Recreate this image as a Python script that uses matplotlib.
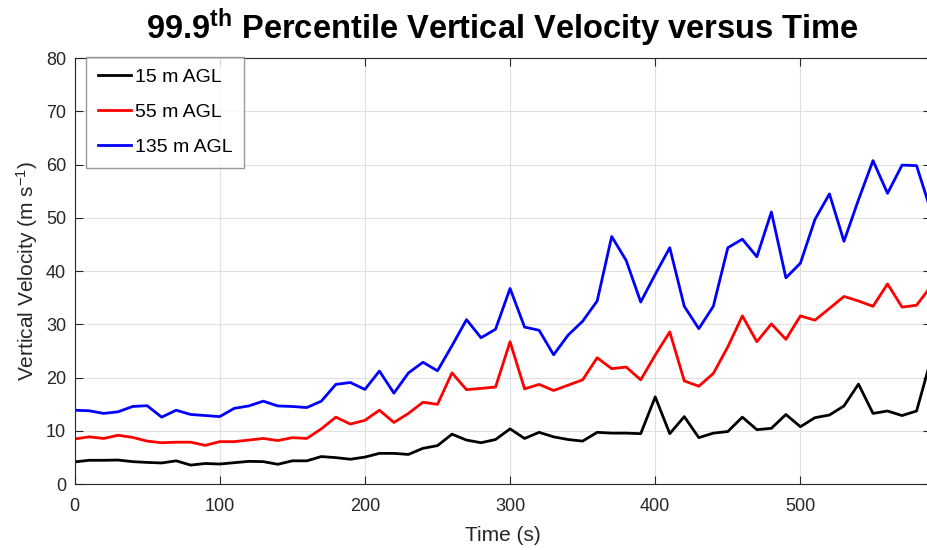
import matplotlib
matplotlib.use("Agg")
import matplotlib.pyplot as plt

plt.rcParams['font.family'] = ['Liberation Sans', 'DejaVu Sans']
plt.rcParams['mathtext.fontset'] = 'custom'
plt.rcParams['mathtext.rm'] = 'Liberation Sans'
plt.rcParams['mathtext.it'] = 'Liberation Sans'
plt.rcParams['mathtext.bf'] = 'Liberation Sans:bold'

# time in seconds
time_s = [0, 10, 20, 30, 40, 50, 60, 70, 80, 90,
          100, 110, 120, 130, 140, 150, 160, 170, 180, 190,
          200, 210, 220, 230, 240, 250, 260, 270, 280, 290,
          300, 310, 320, 330, 340, 350, 360, 370, 380, 390,
          400, 410, 420, 430, 440, 450, 460, 470, 480, 490,
          500, 510, 520, 530, 540, 550, 560, 570, 580, 590]

# 99.9th percentile vertical velocity (m/s) at each height
w_15m = [4.2, 4.5, 4.5, 4.55, 4.25, 4.1, 4.0, 4.4, 3.6, 3.9,
         3.8, 4.05, 4.3, 4.25, 3.75, 4.4, 4.4, 5.2, 5.0, 4.7,
         5.1, 5.8, 5.8, 5.6, 6.75, 7.25, 9.4, 8.3, 7.8, 8.4,
         10.4, 8.6, 9.75, 8.9, 8.4, 8.1, 9.75, 9.6, 9.6, 9.5,
         16.4, 9.5, 12.7, 8.75, 9.6, 9.9, 12.6, 10.25, 10.5, 13.1,
         10.8, 12.5, 13.0, 14.7, 18.8, 13.3, 13.75, 12.9, 13.75, 23.5]
w_55m = [8.5, 8.9, 8.6, 9.2, 8.8, 8.1, 7.8, 7.9, 7.9, 7.3,
         8.0, 8.0, 8.3, 8.6, 8.2, 8.75, 8.6, 10.4, 12.6, 11.3,
         12.0, 13.9, 11.6, 13.3, 15.4, 15.0, 20.9, 17.75, 18.0, 18.25,
         26.75, 17.9, 18.75, 17.6, 18.6, 19.6, 23.75, 21.7, 22.0, 19.6,
         24.25, 28.6, 19.4, 18.4, 20.8, 25.8, 31.6, 26.75, 30.1, 27.2,
         31.6, 30.8, 33.0, 35.25, 34.4, 33.4, 37.6, 33.25, 33.6, 37.2]
w_135m = [13.9, 13.8, 13.3, 13.6, 14.6, 14.75, 12.6, 13.9, 13.1, 12.9,
          12.7, 14.25, 14.7, 15.6, 14.7, 14.6, 14.4, 15.6, 18.75, 19.1,
          17.8, 21.25, 17.1, 20.9, 22.9, 21.3, 26.0, 30.9, 27.5, 29.1,
          36.75, 29.5, 28.9, 24.3, 28.0, 30.6, 34.4, 46.5, 42.0, 34.2,
          39.4, 44.4, 33.4, 29.2, 33.4, 44.4, 46.0, 42.7, 51.1, 38.75,
          41.5, 49.7, 54.5, 45.6, 53.4, 60.75, 54.6, 59.9, 59.8, 51.2]

labels = ['15 m AGL', '55 m AGL', '135 m AGL']
colors = ['#000000', '#ff0000', '#0000ff']

fig = plt.figure(figsize=(9.27, 5.5), dpi=100)
ax = fig.add_axes([0.0804, 0.1195, 0.924, 0.775])

for vals, lab, col in zip([w_15m, w_55m, w_135m], labels, colors):
    ax.plot(time_s, vals, color=col, lw=2.0, label=lab)

ax.set_xlim(0, 590)
ax.set_ylim(0, 80)
ax.set_xticks([0, 100, 200, 300, 400, 500])
ax.set_yticks(range(0, 81, 10))
ax.grid(True, color='#e0e0e0', lw=0.8)
ax.set_axisbelow(True)
ax.tick_params(direction='in', length=6, width=0.8, labelsize=13,
               colors='#262626', top=True, right=True)
ax.tick_params(axis='x', pad=10)
ax.tick_params(axis='y', pad=6)
for sp in ax.spines.values():
    sp.set_color('#262626')
    sp.set_linewidth(0.8)

ax.set_xlabel('Time (s)', fontsize=15, color='#262626', labelpad=8)
ax.set_ylabel('Vertical Velocity (m s$^{-1}$)', fontsize=15, color='#262626', labelpad=4)
ax.set_title('99.9$^{\\mathbf{th}}$ Percentile Vertical Velocity versus Time',
             fontsize=23.5, fontweight='bold', pad=14)

leg = ax.legend(loc='upper left', fontsize=14, frameon=True, fancybox=False,
                edgecolor='#808080', handlelength=1.7, handletextpad=0.2,
                borderpad=0.6, labelspacing=0.9, borderaxespad=0,
                bbox_to_anchor=(0.0134, 1.003))
leg.get_frame().set_linewidth(1.0)

fig.savefig('out.png', dpi=100)
